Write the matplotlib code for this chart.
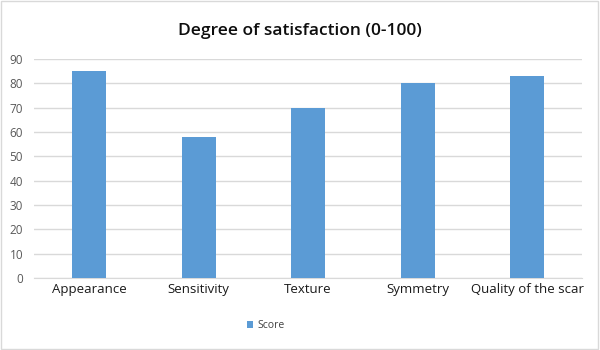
import matplotlib
matplotlib.use("Agg")
from matplotlib import pyplot as plt
from matplotlib.patches import Rectangle

categories = ["Appearance", "Sensitivity", "Texture", "Symmetry", "Quality of the scar"]
scores = [85, 58, 70, 80, 83]
y_ticks = [0, 10, 20, 30, 40, 50, 60, 70, 80, 90]

plt.rcParams["font.family"] = ["Open Sans", "DejaVu Sans"]

fig = plt.figure(figsize=(6, 3.5), dpi=100)
ax = fig.add_axes([0.057, 0.206, 0.913, 0.625])

x = range(len(categories))
ax.bar(x, scores, width=0.31, color="#5B9BD5", label="Score", zorder=3)

ax.set_xlim(-0.5, len(categories) - 0.5)
ax.set_ylim(0, 90)
ax.set_yticks(y_ticks)
ax.set_xticks(list(x))
ax.set_xticklabels(categories, fontsize=9.5, color="#1A1A1A")
ax.tick_params(axis="y", labelsize=8.5, colors="#595959", length=0, pad=8)
ax.tick_params(axis="x", length=0, pad=4)
ax.grid(axis="y", color="#D9D9D9", linewidth=1, zorder=0)
for side in ["top", "right", "left"]:
    ax.spines[side].set_visible(False)
ax.spines["bottom"].set_color("#D9D9D9")

fig.suptitle("Degree of satisfaction (0-100)", y=0.935, fontsize=12.5,
             fontweight="semibold", color="#0D0D0D")
fig.legend(loc="center", bbox_to_anchor=(0.443, 0.07), frameon=False,
           fontsize=7.5, handlelength=0.6, handleheight=0.6, handletextpad=0.4,
           labelcolor="#404040")

# light border round the whole chart
fig.patches.append(Rectangle((0.002, 0.003), 0.995, 0.993, transform=fig.transFigure,
                             fill=False, edgecolor="#D9D9D9", linewidth=1))

fig.savefig("out.png", dpi=100)
